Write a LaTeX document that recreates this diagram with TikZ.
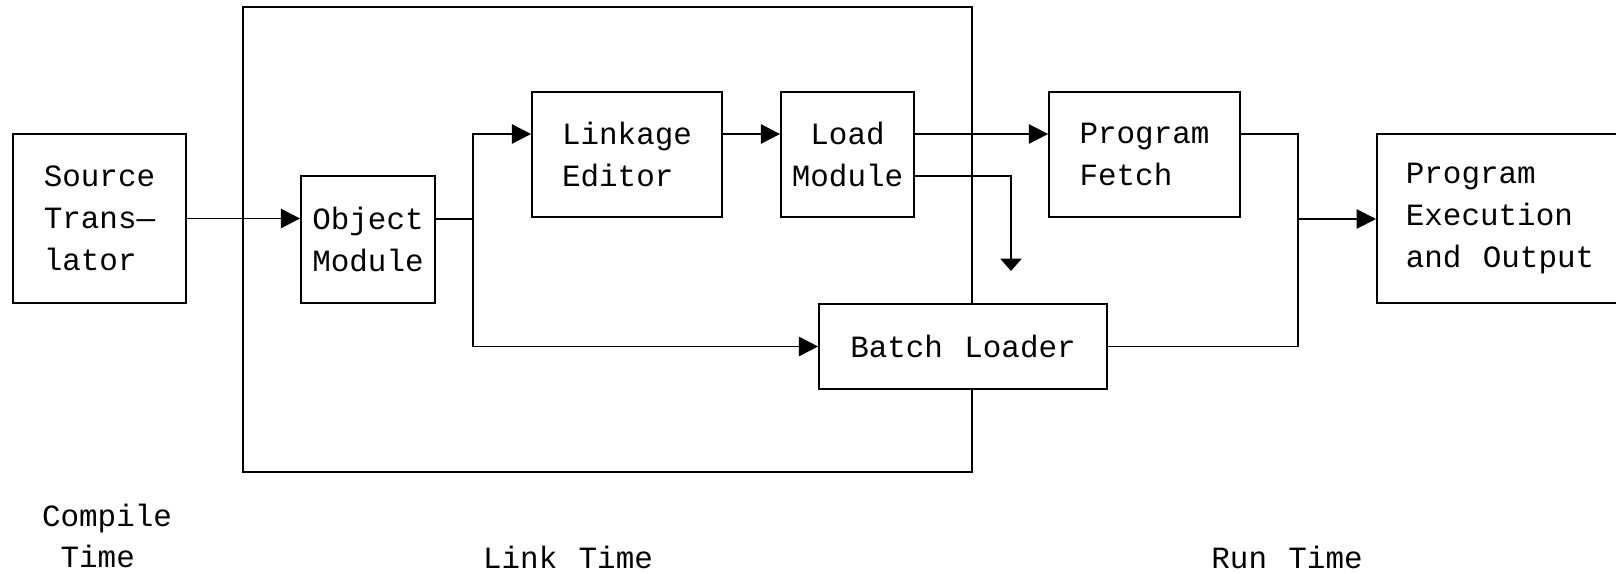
\documentclass[tikz,border=0pt]{standalone}
\usepackage{fontspec}
\setmainfont{Liberation Mono}[WordSpace={1.15,0,0}]
\usetikzlibrary{arrows.meta,positioning,calc}

\begin{document}
\begin{tikzpicture}[
        x=0.02cm, y=-0.02cm,
        font=\fontsize{17.6}{23.8}\selectfont,
        block/.style={rectangle, draw, line width=1pt, fill=white, align=left, inner sep=0pt},
        arrow/.style={-{Triangle[length=11pt,width=11pt]}, line width=1pt},
        smallarrow/.style={-{Triangle[length=7pt,width=12pt]}, line width=1pt},
        line/.style={line width=1pt}
    ]
        \clip (0,0) rectangle (1616,574);

        \node[block, minimum width=14.58cm, minimum height=9.3cm] (linkframe) at (607.5,239.5) {};

        \node[block, minimum width=3.46cm, minimum height=3.38cm] (src) at (99.5,218.5) {Source\\Trans—\\lator};
        \node[block, minimum width=2.68cm, minimum height=2.54cm] (obj) at (368,239.5) {Object\\Module};
        \node[block, minimum width=3.8cm, minimum height=2.5cm] (link) at (627,154.5) {Linkage\\Editor};
        \node[block, align=center, minimum width=2.66cm, minimum height=2.5cm] (load) at (847.5,154.5) {Load\\Module};
        \node[block, minimum width=3.82cm, minimum height=2.5cm] (fetch) at (1144.5,154.5) {Program\\Fetch};
        \node[block, minimum width=5.76cm, minimum height=1.7cm] (batch) at (963,346.5) {Batch Loader};
        \node[block, align=flush left, anchor=west, text width=5.4cm, inner xsep=0.58cm, minimum height=3.38cm] (exec) at (1376,218.5) {Program\\Execution\\and Output};

        \node[align=left] (compile) at (107,536) {Compile\\\hspace*{0.6em}Time};
        \node (linktime) at (568,557) {Link Time};
        \node (runtime) at (1287,557) {Run Time};

        \coordinate (row1) at (0,134);
        \coordinate (row2) at (0,176);
        \coordinate (sp1) at (473,219);
        \coordinate (sp2) at (1298,219);
        \coordinate (drop) at (1011,271);

        \draw[arrow] (src.east) -- (src.east -| obj.west);
        \draw[line] (obj.east |- sp1) -- (sp1);
        \draw[arrow] (sp1) |- (link.west |- row1);
        \draw[arrow] (sp1) |- (batch.west);
        \draw[arrow] (link.east |- row1) -- (load.west |- row1);
        \draw[arrow] (load.east |- row1) -- (fetch.west |- row1);
        \draw[smallarrow] (load.east |- row2) -| (drop);
        \draw[line] (fetch.east |- row1) -| (sp2);
        \draw[line] (batch.east) -| (sp2);
        \draw[arrow] (sp2) -- (exec.west |- sp2);

    \end{tikzpicture}
\end{document}
